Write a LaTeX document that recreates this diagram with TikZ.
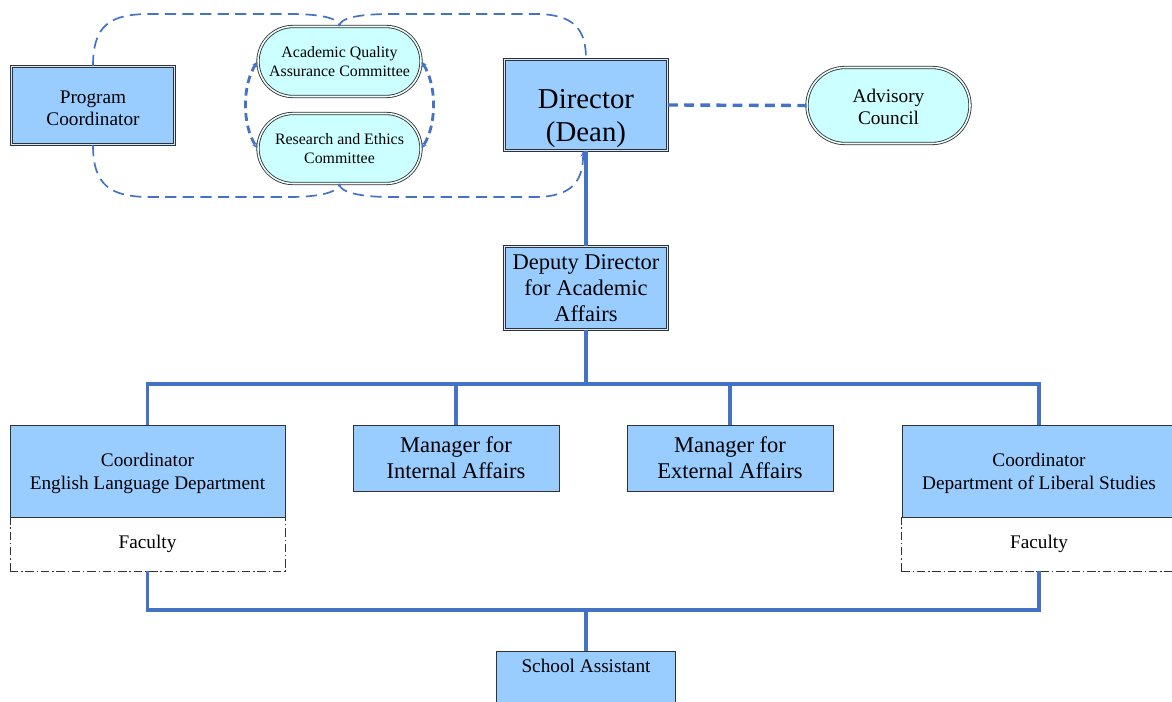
\documentclass[tikz,border=0pt]{standalone}
\usepackage{fontspec}
\setmainfont{Liberation Serif}
\usetikzlibrary{arrows.meta, shapes.misc}

\definecolor{boxblue}{RGB}{153,204,255}
\definecolor{boxcyan}{RGB}{204,255,255}
\definecolor{linkblue}{RGB}{68,114,196}
\definecolor{edgegray}{RGB}{50,50,50}

\begin{document}
\begin{tikzpicture}[x=0.025cm, y=-0.025cm,
		unit/.style={draw=edgegray, fill=boxblue, line width=0.6pt, align=center, inner sep=0pt, font=\fontsize{13.7}{15.8}\selectfont},
		dblunit/.style={unit, double=boxblue!45!white, double distance=1.1pt, line width=0.7pt},
		council/.style={rounded rectangle, draw=edgegray, fill=boxcyan, line width=0.6pt, double=boxcyan!40!white, double distance=1.1pt, align=center, inner sep=0pt, minimum width=4.075cm},
		faculty/.style={draw=edgegray, fill=white, line width=0.6pt, dash pattern=on 6pt off 2pt on 1pt off 2pt, inner sep=0pt, font=\fontsize{13.7}{15.8}\selectfont, minimum width=6.875cm, minimum height=1.35cm},
		orgline/.style={draw=linkblue, line width=2.4pt},
		loopline/.style={draw=linkblue, line width=1.2pt, dash pattern=on 8pt off 4.5pt},
		linkdash/.style={draw=linkblue, line width=2.4pt, dash pattern=on 7pt off 4.5pt},
		arcdash/.style={draw=linkblue, line width=2pt, dash pattern=on 5.5pt off 3.5pt},
		tip/.style={-{Stealth[length=4pt, width=3.5pt]}},
		tips/.style={{Stealth[length=4pt, width=3.5pt]}-{Stealth[length=4pt, width=3.5pt]}}
	]
	\useasboundingbox (0,0) rectangle (1172,702);

	% top row
	\node[dblunit, minimum width=4.07cm, minimum height=1.95cm] (pc) at (93,105.5) {\rule{0pt}{13pt}Program\\Coordinator};
	\node[council, minimum height=1.75cm, font=\fontsize{11.3}{13.5}\selectfont] (aqa) at (339.5,61.5) {Academic Quality\\Assurance Committee};
	\node[council, minimum height=1.75cm, font=\fontsize{11.3}{13.5}\selectfont] (rec) at (339.5,148.5) {Research and Ethics\\Committee};
	\node[dblunit, minimum width=4.07cm, minimum height=2.27cm,
		label={[font=\fontsize{20.5}{23.5}\selectfont, align=center, yshift=-0.34cm]center:Director\\(Dean)}] (dir) at (586,105) {};
	\node[council, minimum height=1.9cm, font=\fontsize{13.7}{15.8}\selectfont] (adv) at (888.5,105.5) {\rule{0pt}{12pt}Advisory\\Council};
	\node[dblunit, minimum width=4.07cm, minimum height=2.07cm, font=\fontsize{16}{18.5}\selectfont] (dep) at (586,288) {Deputy Director\\for Academic\\Affairs};

	% departments
	\node[faculty] (engfac) at (147.5,544) {Faculty};
	\node[faculty] (libfac) at (1039,544) {Faculty};
	\node[unit, minimum width=6.875cm, minimum height=2.3cm] (eng) at (147.5,471) {\rule{0pt}{13pt}Coordinator\\English Language Department};
	\node[unit, minimum width=5.15cm, minimum height=1.65cm, font=\fontsize{16}{18.5}\selectfont] (mint) at (456,458) {Manager for\\Internal Affairs};
	\node[unit, minimum width=5.15cm, minimum height=1.65cm, font=\fontsize{16}{18.5}\selectfont] (mext) at (730,458) {Manager for\\External Affairs};
	\node[unit, minimum width=6.85cm, minimum height=2.3cm] (lib) at (1039,471) {\rule{0pt}{13pt}Coordinator\\Department of Liberal Studies};
	\node[unit, minimum width=4.475cm, minimum height=2.3cm, anchor=north,
		label={[anchor=center, yshift=-0.375cm, font=\fontsize{13.7}{15.8}\selectfont]north:School Assistant}] (sa) at (586,651) {};

	% solid reporting lines
	\coordinate (upbus) at (586,384);
	\coordinate (lowbus) at (586,610);
	\draw[orgline] (dir.south) -- (dep.north);
	\draw[orgline] (dep.south) -- (upbus);
	\draw[orgline] (eng.north) -- (eng.north |- upbus) -- (lib.north |- upbus) -- (lib.north);
	\foreach \n in {mint, mext} {
		\draw[orgline] (\n.north |- upbus) -- (\n.north);
	}
	\draw[orgline] (engfac.south) -- (engfac.south |- lowbus) -- (libfac.south |- lowbus) -- (libfac.south);
	\draw[orgline] (lowbus) -- (sa.north);

	% dashed links
	\draw[linkdash] (dir.east) -- (adv.west);
	\draw[arcdash, tips] (aqa.west) .. controls (242,85) and (242,125) .. (rec.west);
	\draw[arcdash, tips] (aqa.east) .. controls (437,85) and (437,125) .. (rec.east);
	\draw[loopline] (pc.north) .. controls (93,25) and (110,14) .. (150,14) -- (290,14) .. controls (320,14) and (339,18) .. (aqa.north);
	\draw[loopline] (aqa.north) .. controls (339,18) and (360,14) .. (390,14) -- (535,14) .. controls (575,14) and (586,30) .. (dir.north);
	\draw[loopline] (pc.south) .. controls (93,185) and (110,197) .. (150,197) -- (290,197) .. controls (320,197) and (339,192) .. (rec.south);
	\draw[loopline, tip] (rec.south) .. controls (339,192) and (360,197) .. (390,197) -- (535,197) .. controls (575,197) and (583,178) .. ([xshift=-2pt]dir.south);
\end{tikzpicture}
\end{document}
